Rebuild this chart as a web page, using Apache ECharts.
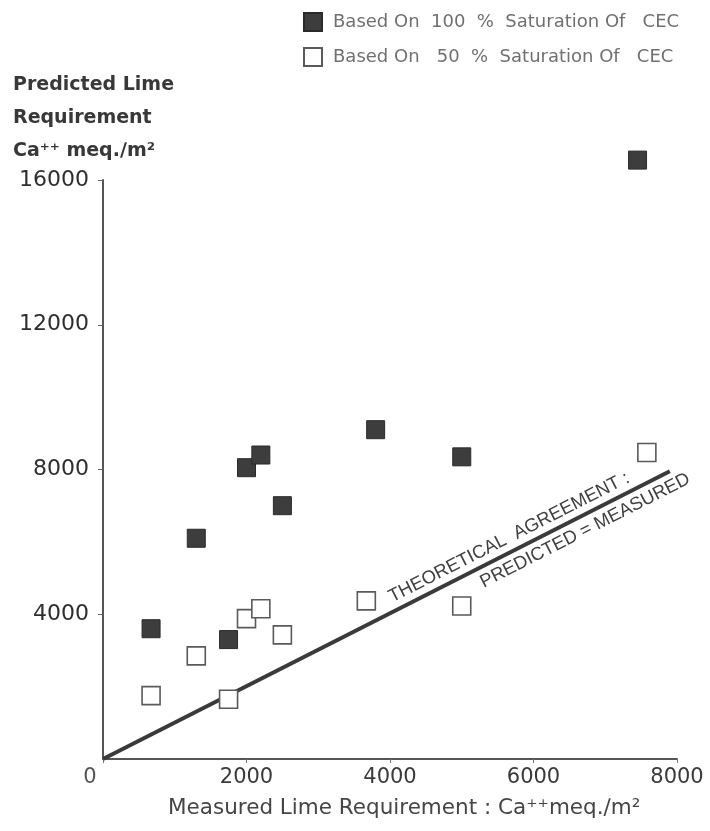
<!DOCTYPE html>
<html>
<head>
<meta charset="utf-8">
<script src="https://cdn.jsdelivr.net/npm/echarts@6/dist/echarts.min.js"></script>
<style>
  html, body { margin: 0; padding: 0; background: #ffffff; }
  #chart { width: 710px; height: 831px; }
</style>
</head>
<body>
<div id="chart"></div>
<script>
// Measured vs predicted lime requirement (Ca++ meq./m2)
const seriesNames = [
  'Based On  100  %  Saturation Of   CEC',
  'Based On   50  %  Saturation Of   CEC'
];
const measured100 = [670, 1300, 1750, 2000, 2200, 2500, 3800, 5000, 7450];
const predicted100 = [3600, 6100, 3300, 8050, 8400, 7000, 9100, 8350, 16550];
const measured50 = [670, 1300, 1750, 2000, 2200, 2500, 3670, 5000, 7580];
const predicted50 = [1750, 2850, 1650, 3880, 4150, 3430, 4370, 4230, 8470];
// 1:1 reference line (predicted = measured)
const agreementX = [0, 7900];
const agreementY = [0, 7950];
const xTicks = [0, 2000, 4000, 6000, 8000];
const yTicks = [0, 4000, 8000, 12000, 16000];

const zip = (a, b) => a.map((v, i) => [v, b[i]]);

const chart = echarts.init(document.getElementById('chart'), null, { renderer: 'canvas' });
const font = 'DejaVu Sans, sans-serif';

chart.setOption({
  backgroundColor: '#ffffff',
  animation: false,
  grid: { left: 103, right: 33, top: 180, bottom: 72, containLabel: false },
  legend: {
    orient: 'vertical',
    left: 303,
    top: 12,
    padding: 0,
    itemGap: 15,
    itemWidth: 18,
    itemHeight: 18,
    data: seriesNames,
    textStyle: { fontFamily: font, fontSize: 18, color: '#707070', padding: [0, 0, 0, 6] }
  },
  xAxis: {
    type: 'value',
    min: xTicks[0],
    max: xTicks[xTicks.length - 1],
    interval: 2000,
    splitLine: { show: false },
    axisLine: { onZero: false, lineStyle: { color: '#555', width: 2 } },
    axisTick: { show: true, length: 4, lineStyle: { color: '#777', width: 1 } },
    axisLabel: {
      margin: 8,
      fontFamily: font,
      fontSize: 21,
      color: '#3a3a3a',
      formatter: v => v === 0 ? '{z|0}' : String(v),
      rich: { z: { fontFamily: font, fontSize: 21, color: '#555', padding: [0, 26, 0, 0] } }
    }
  },
  yAxis: {
    type: 'value',
    min: yTicks[0],
    max: yTicks[yTicks.length - 1],
    interval: 4000,
    splitLine: { show: false },
    axisLine: { onZero: false, lineStyle: { color: '#555', width: 2 } },
    axisTick: { show: true, length: 5, lineStyle: { color: '#666', width: 1 } },
    axisLabel: {
      showMinLabel: false,
      margin: 14,
      fontFamily: font,
      fontSize: 22,
      color: '#2e2e2e',
      formatter: v => String(v)
    }
  },
  series: [
    {
      name: seriesNames[0],
      type: 'scatter',
      symbol: 'rect',
      symbolSize: 18,
      clip: false,
      z: 4,
      itemStyle: { color: '#3d3d3d', borderColor: '#2a2a2a', borderWidth: 1, opacity: 1 },
      data: zip(measured100, predicted100)
    },
    {
      name: seriesNames[1],
      type: 'scatter',
      symbol: 'rect',
      symbolSize: 18,
      clip: false,
      z: 4,
      itemStyle: { color: '#ffffff', borderColor: '#5a5a5a', borderWidth: 1.6, opacity: 1 },
      data: zip(measured50, predicted50)
    },
    {
      name: 'agreement',
      type: 'line',
      symbol: 'none',
      silent: true,
      z: 3,
      lineStyle: { color: '#3a3a3a', width: 4 },
      data: zip(agreementX, agreementY)
    }
  ]
});

// Axis titles and captions laid along the agreement line
const p0 = chart.convertToPixel({ gridIndex: 0 }, [agreementX[0], agreementY[0]]);
const p1 = chart.convertToPixel({ gridIndex: 0 }, [agreementX[1], agreementY[1]]);
const angle = Math.atan2(p0[1] - p1[1], p1[0] - p0[0]);
const above = chart.convertToPixel({ gridIndex: 0 }, [5660, 6120]);
const below = chart.convertToPixel({ gridIndex: 0 }, [6720, 6310]);

chart.setOption({
  graphic: [
    {
      id: 'yTitle',
      type: 'text',
      left: 13,
      top: 69,
      style: {
        text: 'Predicted Lime\nRequirement\nCa\u207A\u207A meq.\u2215m\u00B2',
        fontFamily: font,
        fontSize: 19,
        fontWeight: 'bold',
        fill: '#383838',
        lineHeight: 33
      }
    },
    {
      id: 'xTitle',
      type: 'text',
      left: 168,
      top: 797,
      style: {
        text: 'Measured Lime Requirement : Ca\u207A\u207Ameq.\u2215m\u00B2',
        fontFamily: font,
        fontSize: 21.5,
        fill: '#454545'
      }
    },
    {
      id: 'capAbove',
      type: 'text',
      x: above[0],
      y: above[1],
      rotation: angle,
      style: {
        text: 'THEORETICAL  AGREEMENT :',
        fontFamily: 'Liberation Sans, Arial, sans-serif',
        fontSize: 18.5,
        fill: '#404040',
        align: 'center',
        verticalAlign: 'middle'
      }
    },
    {
      id: 'capBelow',
      type: 'text',
      x: below[0],
      y: below[1],
      rotation: angle,
      style: {
        text: 'PREDICTED = MEASURED',
        fontFamily: 'Liberation Sans, Arial, sans-serif',
        fontSize: 18.5,
        fill: '#404040',
        align: 'center',
        verticalAlign: 'middle'
      }
    }
  ]
});
</script>
</body>
</html>
